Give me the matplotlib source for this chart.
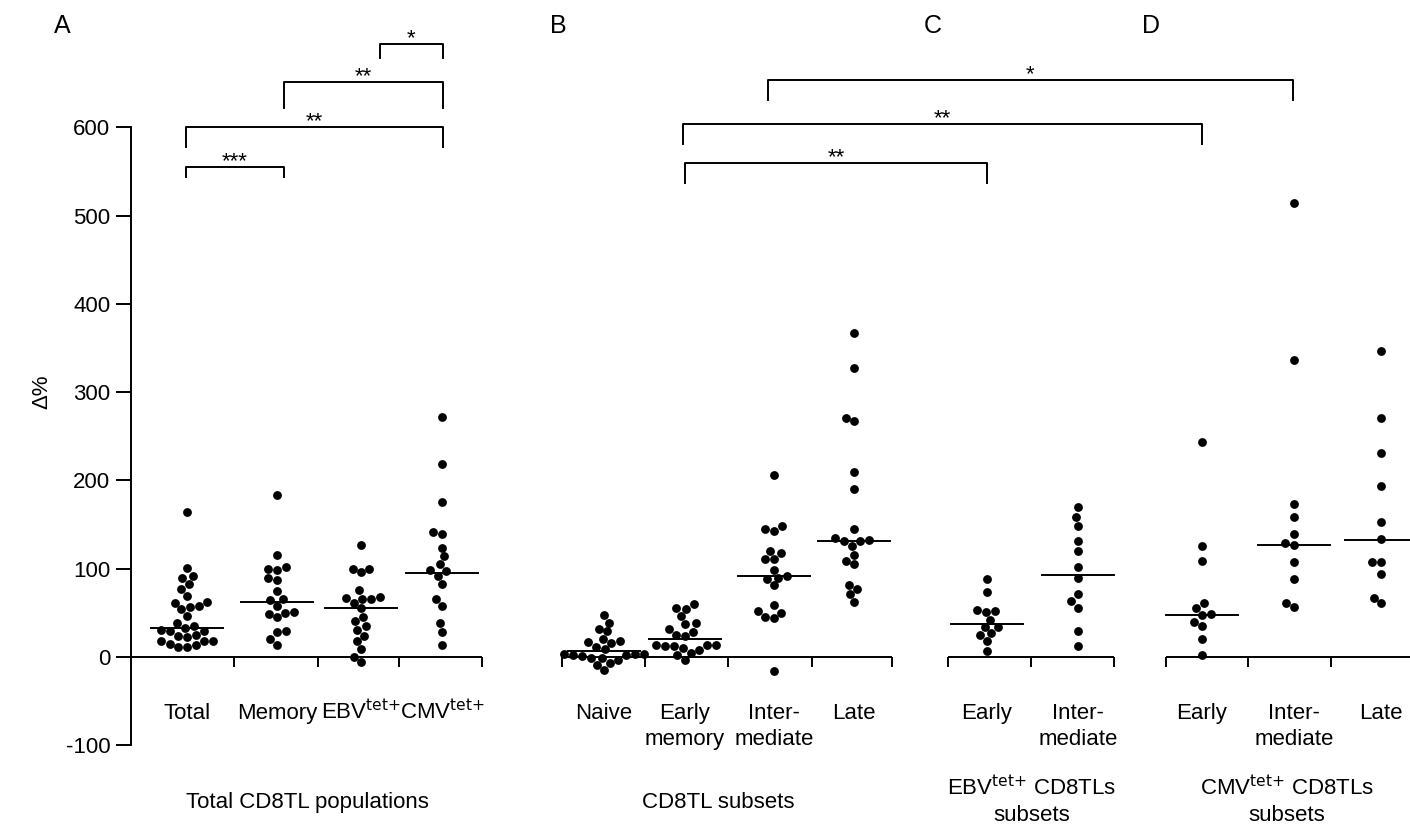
import numpy as np
import matplotlib
matplotlib.use("Agg")
import matplotlib.pyplot as plt

plt.rcParams['font.family'] = ['Liberation Sans', 'DejaVu Sans']
plt.rcParams['axes.unicode_minus'] = False
plt.rcParams['mathtext.default'] = 'regular'

# --- Data: delta % per donor ---
total = [164, 101, 92, 90, 83, 77, 69, 62, 61, 58, 57, 54, 46, 39, 35, 33, 31, 30,
         29, 25, 24, 23, 18, 18, 18, 15, 14, 11, 11]
memory = [183, 116, 102, 100, 99, 89, 87, 75, 66, 65, 58, 51, 50, 49, 45, 30, 28, 20, 14]
ebv = [127, 100, 100, 96, 76, 68, 67, 66, 66, 61, 55, 45, 41, 35, 31, 24, 18, 9, 0, -6]
cmv = [272, 219, 176, 141, 139, 124, 114, 105, 98, 97, 92, 83, 66, 58, 38, 28, 14]

naive = [48, 39, 32, 29, 20, 18, 17, 16, 11, 9, 3, 3, 3, 2, 2, 1, -1, -1, -3, -7, -9, -15]
early_memory = [60, 55, 54, 46, 38, 37, 32, 28, 25, 24, 14, 14, 14, 13, 12, 10, 8, 5, 2, -3]
intermediate = [206, 148, 145, 143, 120, 118, 111, 111, 99, 92, 90, 88, 81, 59, 52, 50,
                45, 44, -16]
late = [367, 327, 271, 267, 210, 190, 145, 135, 133, 131, 131, 126, 116, 109, 105, 82,
        77, 71, 62]

ebv_early = [88, 74, 53, 52, 51, 42, 34, 34, 27, 25, 18, 7]
ebv_inter = [170, 158, 148, 131, 120, 102, 89, 71, 63, 56, 29, 13]

cmv_early = [243, 126, 109, 61, 56, 49, 48, 40, 35, 20, 2]
cmv_inter = [514, 336, 173, 158, 139, 129, 127, 108, 88, 61, 57]
cmv_late = [346, 271, 231, 194, 153, 134, 108, 108, 94, 67, 61]

series = [total, memory, ebv, cmv, naive, early_memory, intermediate, late,
          ebv_early, ebv_inter, cmv_early, cmv_inter, cmv_late]
medians = [32.5, 62, 56, 95, 7, 20, 92, 131, 37, 93, 48, 127, 132]

TET = r"$^{\text{tet+}}$"
tick_labels = ["Total", "Memory", "EBV" + TET, "CMV" + TET,
               "Naive", "Early\nmemory", "Inter-\nmediate", "Late",
               "Early", "Inter-\nmediate",
               "Early", "Inter-\nmediate", "Late"]
group_titles = ["Total CD8TL populations", "CD8TL subsets",
                "EBV" + TET + " CD8TLs\nsubsets", "CMV" + TET + " CD8TLs\nsubsets"]
panel_letters = ["A", "B", "C", "D"]

# significance brackets: (left x, right x, bracket y, leg drop in px, label)
brackets = [(380, 443, 44, 14, "*"), (284, 443, 82, 26, "**"),
            (186, 443, 127, 20, "**"), (186, 284, 167, 10, "***"),
            (768, 1293, 80, 20, "*"), (683, 1202, 124, 20, "**"),
            (685, 987, 163, 20, "**")]

# --- Layout (x axis is in pixels, y axis in delta %) ---
PX = 0.883      # pixels per delta % unit
Y0 = 657        # pixel row of y = 0
W, H = 1410, 825

x_centres = [187, 277, 361, 442, 604, 685, 774, 854, 987, 1078, 1202, 1294, 1381]
segments = [(131, [234, 318, 399, 482]), (562, [562, 645, 728, 812, 892]),
            (948, [948, 1031, 1114]), (1166, [1166, 1248, 1331, 1414])]
title_x = [307, 718, 1032, 1287]
letter_x = [62, 558, 933, 1151]
DOT = 8.8       # dot diameter in px
MED_HALF = 36   # half width of median line in px
LW = 1.4
FS = 16


def py(p):
    return (Y0 - p) / PX


def swarm(values, centre, d=DOT + 0.3):
    ys = np.asarray(values, float) * PX
    xs = np.zeros(len(ys))
    placed = []
    for i in np.argsort(ys):
        y = ys[i]
        forbidden = []
        for xj, yj in placed:
            dy = abs(y - yj)
            if dy < d:
                w = np.sqrt(d * d - dy * dy)
                forbidden.append((xj - w, xj + w))
        cands = [0.0] + [a for a, b in forbidden] + [b for a, b in forbidden]
        cands.sort(key=abs)
        for c in cands:
            if all(not (a + 1e-6 < c < b - 1e-6) for a, b in forbidden):
                xs[i] = c
                break
        placed.append((xs[i], y))
    return centre + xs


fig = plt.figure(figsize=(W / 100, H / 100), dpi=100)
ax = fig.add_axes([0, 0, 1, 1])
ax.set_xlim(0, W)
ax.set_ylim(py(H), py(0))

for s in ["top", "right", "bottom"]:
    ax.spines[s].set_visible(False)
ax.spines["left"].set_position(("data", 131))
ax.spines["left"].set_bounds(-100, 600)
ax.spines["left"].set_linewidth(LW)
ax.set_yticks(range(-100, 601, 100))
ax.tick_params(axis="y", direction="out", length=10.8, width=LW, labelsize=FS, pad=4)
ax.tick_params(axis="x", bottom=False, labelbottom=False)

# x axis segments with boundary ticks
tick_len = 10 / PX
for start, ticks in segments:
    ax.plot([start, ticks[-1]], [0, 0], color="black", lw=LW, solid_capstyle="butt")
    ax.vlines(ticks, -tick_len, 0, color="black", lw=LW)

# dots and medians
for vals, xc, med in zip(series, x_centres, medians):
    ax.scatter(swarm(vals, xc), vals, s=(DOT * 0.72) ** 2, color="black",
               linewidths=0, zorder=3)
    ax.plot([xc - MED_HALF, xc + MED_HALF], [med, med], color="black", lw=LW, zorder=4)

# category labels
for lab, xc in zip(tick_labels, x_centres):
    for k, line in enumerate(lab.split("\n")):
        ax.text(xc, py(719 + 26 * k), line, ha="center", va="baseline", fontsize=FS)

# group titles
for title, xt in zip(group_titles, title_x):
    lines = title.split("\n")
    first = 808 - 13 * (len(lines) - 1)
    for k, line in enumerate(lines):
        ax.text(xt, py(first + 26 * k), line, ha="center", va="baseline", fontsize=FS)

# panel letters
for letter, xl in zip(panel_letters, letter_x):
    ax.text(xl, py(33), letter, ha="center", va="baseline", fontsize=18)

# y label
ax.text(42, py(392), "\u0394%", rotation=90, ha="center", va="center", fontsize=FS)

# significance brackets
for x1, x2, yb, drop, lab in brackets:
    ax.plot([x1, x1, x2, x2], [py(yb + drop), py(yb), py(yb), py(yb + drop)],
            color="black", lw=LW)
    ax.text((x1 + x2) / 2, py(yb), lab, ha="center", va="baseline", fontsize=FS)

fig.savefig("out.png", dpi=100)
